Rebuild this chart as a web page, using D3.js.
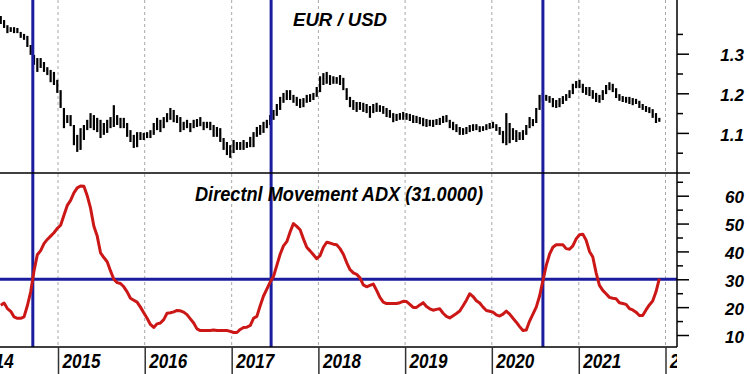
<!DOCTYPE html>
<html><head><meta charset="utf-8">
<script src="https://cdn.jsdelivr.net/npm/d3@7"></script>
<style>body{margin:0;background:#fff}svg{display:block}</style>
</head><body><div id="chart"></div>
<script>
// ---- data (bi-weekly bars starting 2014-05-05) ----
const startDate = "2014-05-05";
const stepDays = 14;
const priceHigh = [
1.395,1.385,1.372,1.367,1.367,1.365,1.355,1.350,1.345,1.322,
1.297,1.289,1.289,1.279,1.266,1.259,1.254,1.234,1.208,1.163,
1.145,1.145,1.120,1.095,1.112,1.120,1.133,1.150,1.145,1.138,
1.133,1.125,1.133,1.140,1.170,1.145,1.138,1.138,1.125,1.107,
1.095,1.102,1.102,1.100,1.102,1.107,1.125,1.138,1.133,1.140,
1.150,1.163,1.158,1.145,1.140,1.128,1.133,1.125,1.133,1.135,
1.140,1.128,1.128,1.128,1.120,1.115,1.112,1.087,1.077,1.069,
1.082,1.077,1.077,1.082,1.077,1.090,1.102,1.115,1.120,1.128,
1.133,1.145,1.158,1.173,1.191,1.201,1.208,1.208,1.196,1.191,
1.186,1.188,1.196,1.198,1.201,1.216,1.243,1.251,1.254,1.246,
1.243,1.241,1.246,1.239,1.213,1.191,1.183,1.178,1.178,1.176,
1.173,1.168,1.173,1.176,1.170,1.168,1.163,1.158,1.150,1.148,
1.150,1.153,1.150,1.148,1.145,1.143,1.140,1.138,1.135,1.133,
1.133,1.135,1.138,1.143,1.145,1.133,1.128,1.122,1.115,1.112,
1.115,1.120,1.122,1.122,1.117,1.117,1.122,1.125,1.128,1.122,
1.115,1.105,1.150,1.125,1.112,1.107,1.102,1.107,1.120,1.140,
1.135,1.163,1.196,1.201,1.196,1.193,1.188,1.183,1.188,1.193,
1.198,1.208,1.224,1.231,1.234,1.224,1.216,1.216,1.208,1.201,
1.196,1.208,1.221,1.228,1.224,1.213,1.198,1.193,1.191,1.191,
1.188,1.186,1.181,1.173,1.168,1.165,1.160,1.150,1.138];
const priceLow = [
1.375,1.365,1.352,1.355,1.352,1.352,1.340,1.335,1.317,1.297,
1.272,1.254,1.264,1.254,1.246,1.228,1.221,1.201,1.163,1.112,
1.125,1.117,1.069,1.052,1.057,1.082,1.107,1.112,1.107,1.102,
1.087,1.095,1.100,1.112,1.115,1.120,1.112,1.112,1.090,1.077,
1.062,1.064,1.082,1.082,1.087,1.087,1.095,1.107,1.102,1.112,
1.127,1.133,1.127,1.125,1.102,1.107,1.112,1.102,1.112,1.115,
1.117,1.107,1.112,1.107,1.090,1.090,1.077,1.057,1.044,1.037,
1.049,1.057,1.057,1.057,1.062,1.064,1.064,1.090,1.095,1.100,
1.112,1.120,1.133,1.143,1.158,1.176,1.183,1.183,1.176,1.168,
1.163,1.165,1.176,1.178,1.183,1.191,1.203,1.221,1.224,1.221,
1.224,1.224,1.221,1.208,1.183,1.165,1.158,1.153,1.158,1.153,
1.150,1.138,1.150,1.153,1.153,1.148,1.140,1.138,1.127,1.130,
1.133,1.133,1.133,1.130,1.125,1.125,1.122,1.117,1.115,1.117,
1.115,1.120,1.120,1.125,1.127,1.112,1.107,1.102,1.095,1.095,
1.097,1.102,1.105,1.107,1.102,1.105,1.107,1.110,1.112,1.105,
1.095,1.074,1.069,1.074,1.082,1.077,1.082,1.082,1.095,1.112,
1.117,1.125,1.158,1.178,1.181,1.176,1.165,1.163,1.165,1.173,
1.181,1.188,1.198,1.213,1.213,1.201,1.196,1.193,1.186,1.178,
1.176,1.183,1.198,1.208,1.203,1.188,1.181,1.178,1.176,1.173,
1.170,1.173,1.163,1.158,1.153,1.150,1.138,1.125,1.128];
const adx = [
20.7,21.5,19.5,18.5,16.5,16,16,16.5,20.5,25.5,
33,38.8,40.3,42.8,44.3,45.5,46.7,48.3,49.4,53,
56.5,58.3,61,62.8,63.5,63.4,60,55.5,49,45.5,
39.5,37.8,36.3,33,30,28.8,28.5,27.3,25.5,23.2,
22.5,21.8,20,18,16,13.8,12.7,14,14.3,15.5,
17.8,18,18.3,18.8,18.7,18.2,17.3,15.8,14.3,12.2,
11.6,11.6,11.6,11.6,11.8,11.6,11.6,11.6,11.6,11.3,
10.9,10.9,12,12.7,12.8,13.4,16,16.7,20.5,24,
26.5,29,31,35,39,42,43.5,47,50,49,
47.8,44.5,41.5,40.2,38.8,37.4,38.5,41.5,43.3,43,
42.6,42.4,41,39,36,33.5,32.3,31.8,30.5,28,
27.3,27.8,28.3,26,23.5,21.8,21.3,21.3,21.3,21.3,
21.6,22.1,22,21,19.9,19.9,20.8,21.6,20.2,19.4,
18.9,19.2,19.4,17.8,16.7,16.1,16.9,17.7,18.6,20.5,
22.5,24.8,23.8,22.3,21.5,20,18.8,18.5,18.2,17.2,
16.8,17.5,18.6,17.5,16,14.6,13,11.6,11.8,15,
17.5,20,24,29.5,35,39,41.5,42.4,42.4,42.4,
41,40.8,42,44.5,46,46.2,44,40,38,32.3,
27.8,26,24.8,23.5,23.2,23,21.6,21.3,21,19.5,
19,18.2,17,17,19,20.8,22.2,25.5,30.2];
const yearTicks = [2014,2015,2016,2017,2018,2019,2020,2021,2022];
const priceMajor = [1.1,1.2,1.3];
const priceMinor = [1.05,1.15,1.25,1.35];
const adxMajor = [10,20,30,40,50,60];
const adxMinor = [15,25,35,45,55,65];
const adxLevel = 30;
const signalDates = ["2014-09-17","2017-06-16","2020-08-03"];
const priceTitle = "EUR / USD";
const adxTitle = "Directnl Movement ADX (31.0000)";

// ---- chart ----
const W = 750, H = 374;
const plotRight = 677, divY = 173, axisY = 347;
const parse = d3.timeParse("%Y-%m-%d");
const t0 = parse(startDate);
const dates = priceHigh.map((_, i) => d3.timeDay.offset(t0, i * stepDays));

const svg = d3.select("#chart").append("svg").attr("width", W).attr("height", H);
const x = d3.scaleTime().domain([new Date(2015,0,1), new Date(2022,0,1)]).range([58, 665.5]);
const yP = d3.scaleLinear().domain([1.0, 1.4]).range([172.5, 14.1]);
const yA = d3.scaleLinear().domain([10, 60]).range([335.0, 195.7]);
const font = "'Liberation Sans', Arial, sans-serif";

svg.append("defs").append("clipPath").attr("id","clipPlot")
  .append("rect").attr("x",0).attr("y",0).attr("width",plotRight).attr("height",H);

// year gridlines
svg.append("g").selectAll("line").data(yearTicks.slice(1)).join("line")
  .attr("x1", d => x(new Date(d,0,1))).attr("x2", d => x(new Date(d,0,1)))
  .attr("y1", 0).attr("y2", axisY)
  .attr("stroke", "#a8a8a8").attr("stroke-width", 1).attr("stroke-dasharray", "3,3");

// price bars
svg.append("g").selectAll("line").data(dates).join("line")
  .attr("x1", d => x(d)).attr("x2", d => x(d))
  .attr("y1", (d,i) => yP(priceHigh[i])).attr("y2", (d,i) => yP(priceLow[i]))
  .attr("stroke", "#000").attr("stroke-width", 2.2);

// signal lines (blue)
const blue = "#1c1c9e";
svg.append("g").selectAll("line").data(signalDates).join("line")
  .attr("x1", d => x(parse(d))).attr("x2", d => x(parse(d)))
  .attr("y1", 0).attr("y2", axisY)
  .attr("stroke", blue).attr("stroke-width", 3);
svg.append("line").attr("x1",0).attr("x2",plotRight)
  .attr("y1", yA(adxLevel)).attr("y2", yA(adxLevel))
  .attr("stroke", blue).attr("stroke-width", 3);

// ADX line
svg.append("path").datum(adx)
  .attr("d", d3.line().x((d,i) => x(dates[i])).y(d => yA(d)))
  .attr("fill","none").attr("stroke","#cc1717").attr("stroke-width",3)
  .attr("stroke-linejoin","round");

// frame lines
svg.append("line").attr("x1",0).attr("x2",690).attr("y1",divY).attr("y2",divY)
  .attr("stroke","#000").attr("stroke-width",1.5);
svg.append("line").attr("x1",0).attr("x2",plotRight).attr("y1",axisY).attr("y2",axisY)
  .attr("stroke","#000").attr("stroke-width",1.5);
svg.append("line").attr("x1",plotRight).attr("x2",plotRight).attr("y1",0).attr("y2",axisY)
  .attr("stroke","#000").attr("stroke-width",1.5);

// right axes
function rightAxis(scale, major, minor, fmt) {
  const gMin = svg.append("g").attr("transform", `translate(${plotRight},0)`)
    .call(d3.axisRight(scale).tickValues(minor).tickSize(6).tickFormat(""));
  const gMaj = svg.append("g").attr("transform", `translate(${plotRight},0)`)
    .call(d3.axisRight(scale).tickValues(major).tickSize(12).tickFormat(fmt));
  [gMin, gMaj].forEach(g => {
    g.select(".domain").remove();
    g.selectAll("line").attr("stroke","#000").attr("stroke-width",1.5);
  });
  gMaj.selectAll("text").attr("x", 67).attr("dy", "0.42em")
    .attr("text-anchor","end").attr("fill","#000")
    .style("font-family", font).style("font-size","17px")
    .style("font-weight","bold").style("font-style","italic");
}
rightAxis(yP, priceMajor, priceMinor, d3.format(".1f"));
rightAxis(yA, adxMajor, adxMinor, d3.format("d"));

// bottom axis
const gx = svg.append("g").attr("transform", `translate(0,${axisY})`)
  .attr("clip-path","url(#clipPlot)")
  .call(d3.axisBottom(x).tickValues(yearTicks.map(y => new Date(y,0,1)))
    .tickSize(27).tickFormat(d3.timeFormat("%Y")));
gx.select(".domain").remove();
gx.selectAll("line").attr("stroke","#333").attr("stroke-width",1.5);
gx.selectAll("text").attr("x", 4).attr("y", 21).attr("dy", 0)
  .attr("text-anchor","start").attr("fill","#000")
  .attr("textLength", 38).attr("lengthAdjust","spacingAndGlyphs")
  .style("font-family", font).style("font-size","20px")
  .style("font-weight","bold").style("font-style","italic");

// titles
svg.append("text").attr("x",293).attr("y",26).text(priceTitle)
  .attr("textLength",94).attr("lengthAdjust","spacingAndGlyphs")
  .style("font-family", font).style("font-size","19px")
  .style("font-weight","bold").style("font-style","italic");
svg.append("text").attr("x",195).attr("y",201).text(adxTitle)
  .attr("textLength",288).attr("lengthAdjust","spacingAndGlyphs")
  .style("font-family", font).style("font-size","21px")
  .style("font-weight","bold").style("font-style","italic");
</script></body></html>
